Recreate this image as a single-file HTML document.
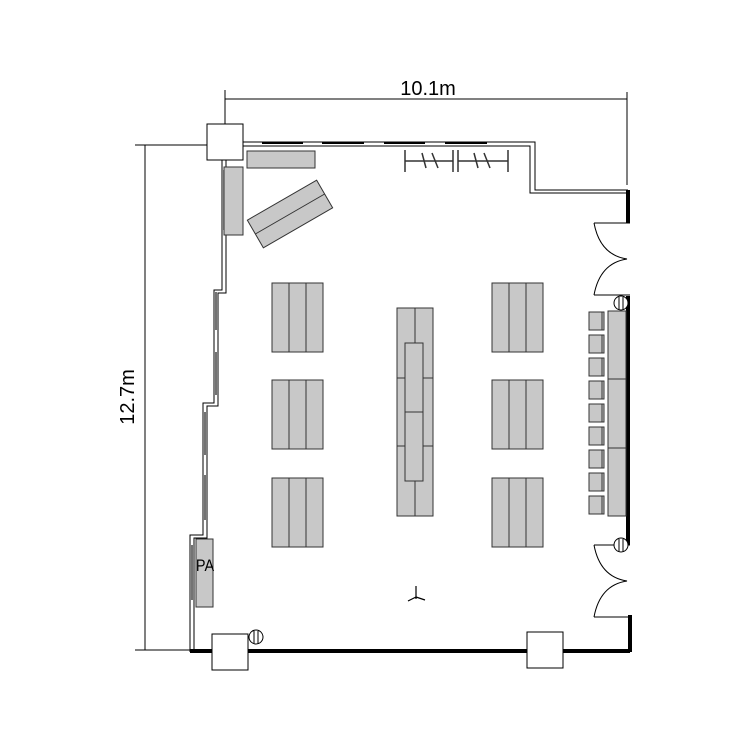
<!DOCTYPE html>
<html><head><style>body{margin:0;background:#fff}svg{display:block}</style></head><body>
<svg width="750" height="750" viewBox="0 0 750 750" xmlns="http://www.w3.org/2000/svg" font-family="Liberation Sans, sans-serif">
<rect width="750" height="750" fill="#fff"/>
<g stroke="#000" stroke-width="1" fill="none">
<line x1="225" y1="99" x2="627" y2="99"/>
<line x1="225" y1="90" x2="225" y2="160"/>
<line x1="627" y1="92" x2="627" y2="185"/>
<line x1="145" y1="145" x2="145" y2="650"/>
<line x1="135" y1="145" x2="225" y2="145"/>
<line x1="135" y1="650" x2="195" y2="650"/>
<rect x="207" y="124" width="36" height="36" fill="#fff"/>
<path d="M243 142 H535 V190 H628 M243 146 H530 V193 H628"/>
<g stroke-width="2"><line x1="262" y1="143" x2="303" y2="143"/><line x1="322" y1="143" x2="364" y2="143"/><line x1="384" y1="143" x2="425" y2="143"/><line x1="445" y1="143" x2="487" y2="143"/></g>
<line x1="628" y1="190" x2="628" y2="223" stroke-width="4"/>
<path d="M594 223 H630 M594 295 H630 M594 545 H630 M594 617 H630"/>
<path d="M594 223 Q600 255 627 259 Q600 263 594 295"/>
<path d="M594 545 Q600 577 627 581 Q600 585 594 617"/>
<line x1="628" y1="296" x2="628" y2="545" stroke-width="4"/>
<line x1="630" y1="615" x2="630" y2="652" stroke-width="4"/>
<line x1="190" y1="651" x2="630" y2="651" stroke-width="4"/>
<path d="M222 160 V290 H214 V403 H203 V535 H190 V652 M226 160 V293 H218 V406 H207 V538 H194 V652"/>
<g stroke-width="1.5" stroke="#444"><line x1="216" y1="292" x2="216" y2="330"/><line x1="216" y1="352" x2="216" y2="395"/><line x1="205" y1="412" x2="205" y2="455"/><line x1="205" y1="475" x2="205" y2="520"/><line x1="192" y1="545" x2="192" y2="600"/><line x1="224" y1="170" x2="224" y2="230"/></g>
<rect x="212" y="634" width="36" height="36" fill="#fff"/>
<rect x="527" y="632" width="36" height="36" fill="#fff"/>
</g>
<g stroke="#333" stroke-width="1" fill="#c8c8c8">
<rect x="247" y="151" width="68" height="17"/>
<rect x="224" y="167" width="19" height="68"/>
<g transform="translate(290,214) rotate(-30)"><rect x="-40" y="-16" width="80" height="32"/><line x1="-40" y1="0" x2="40" y2="0"/></g>
<g id="grp"><rect x="272" y="283" width="17" height="69"/><rect x="289" y="283" width="17" height="69"/><rect x="306" y="283" width="17" height="69"/></g>
<use href="#grp" y="97"/><use href="#grp" y="195"/>
<use href="#grp" x="220"/><use href="#grp" x="220" y="97"/><use href="#grp" x="220" y="195"/>
<rect x="397" y="308" width="18" height="208"/><rect x="415" y="308" width="18" height="208"/>
<line x1="397" y1="378" x2="433" y2="378"/><line x1="397" y1="446" x2="433" y2="446"/>
<rect x="405" y="343" width="18" height="138"/><line x1="405" y1="412" x2="423" y2="412"/>
<rect x="608" y="311" width="18" height="205"/><line x1="608" y1="379" x2="626" y2="379"/><line x1="608" y1="448" x2="626" y2="448"/>
<g id="ch"><rect x="589" y="312" width="15" height="18"/><line x1="602" y1="312" x2="602" y2="330"/></g>
<use href="#ch" y="23"/><use href="#ch" y="46"/><use href="#ch" y="69"/><use href="#ch" y="92"/><use href="#ch" y="115"/><use href="#ch" y="138"/><use href="#ch" y="161"/><use href="#ch" y="184"/>
<rect x="196" y="539" width="17" height="68"/>
</g>
<g stroke="#333" stroke-width="1.5" fill="none">
<line x1="405" y1="161" x2="453" y2="161"/><line x1="458" y1="161" x2="508" y2="161"/>
<line x1="405" y1="150" x2="405" y2="172"/><line x1="453" y1="150" x2="453" y2="172"/><line x1="458" y1="150" x2="458" y2="172"/><line x1="508" y1="150" x2="508" y2="172"/>
<line x1="422" y1="153" x2="426" y2="168"/><line x1="432" y1="153" x2="438" y2="168"/><line x1="474" y1="153" x2="478" y2="168"/><line x1="484" y1="153" x2="490" y2="168"/>
</g>
<g stroke="#000" fill="#fff">
<circle cx="621" cy="303" r="7"/><circle cx="621" cy="545" r="7"/><circle cx="256" cy="637" r="7"/>
<line x1="619" y1="297" x2="619" y2="310"/><line x1="623" y1="297" x2="623" y2="310"/>
<line x1="619" y1="539" x2="619" y2="552"/><line x1="623" y1="539" x2="623" y2="552"/>
<line x1="254" y1="631" x2="254" y2="644"/><line x1="258" y1="631" x2="258" y2="644"/>
</g>
<g stroke="#000" stroke-width="1.2"><line x1="416" y1="586" x2="416" y2="599"/><line x1="416" y1="597" x2="408" y2="601"/><line x1="416" y1="597" x2="425" y2="600"/></g>
<text x="205" y="571" font-size="17" text-anchor="middle" fill="#000" transform="translate(205,0) scale(0.85,1) translate(-205,0)">PA</text>
<text x="428" y="95" font-size="20" text-anchor="middle" fill="#000">10.1m</text>
<text transform="translate(134,397) rotate(-90)" font-size="20" text-anchor="middle" fill="#000">12.7m</text>
</svg>
</body></html>
